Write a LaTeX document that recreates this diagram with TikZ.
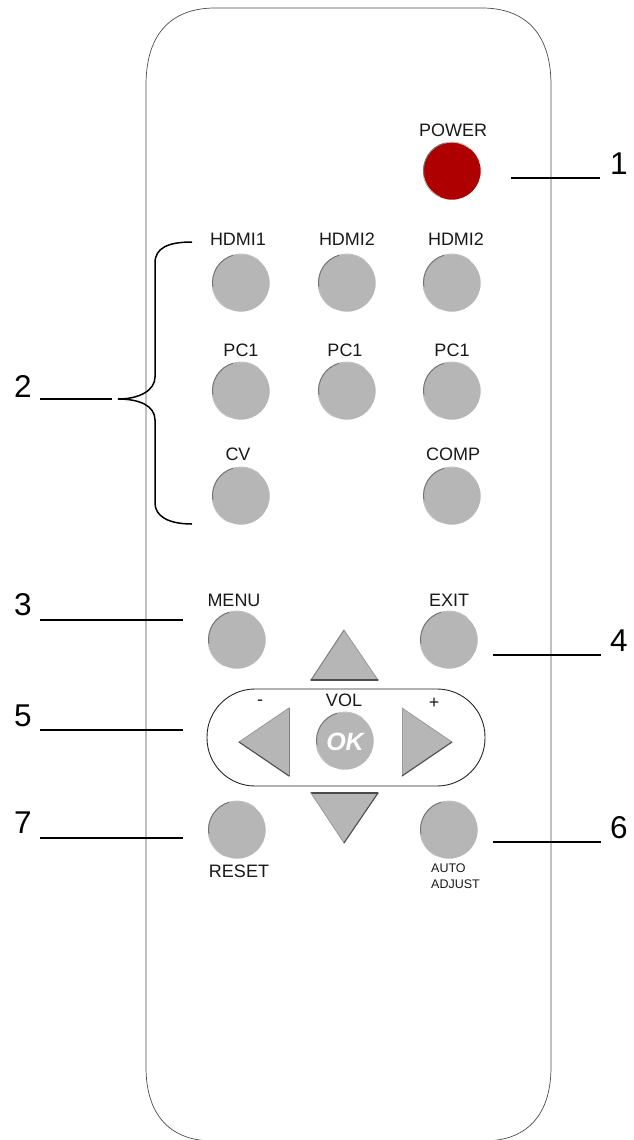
\documentclass[tikz,border=0pt]{standalone}
\usepackage{fontspec}
\setmainfont{Liberation Sans}
\newcommand{\rbtn}[4]{%
  \node[btn,fill=#4] (#1) at (#2,#3) {};
  \draw[black!55,line width=1pt] (#1.105) arc[start angle=-105,end angle=-190,radius=28.4];
  \draw[black!25,line width=1pt] (#1.105) arc[start angle=-105,end angle=-50,radius=28.4];
  \draw[black!25,line width=1pt] (#1.190) arc[start angle=-190,end angle=-245,radius=28.4];
}
\newcommand{\tribevel}[6]{%
  \fill[fill=btngray] (#1,#2) -- (#3,#4) -- (#5,#6) -- cycle;
}
\definecolor{btngray}{HTML}{B6B6B6}
\definecolor{pwrred}{HTML}{AE0000}
\tikzset{
  x=1pt,y=-1pt,
  btn/.style={circle,inner sep=0pt,minimum size=57.4pt,draw=none},
  lbl/.style={font=\fontsize{18}{20}\selectfont,text=black!90,inner sep=0pt},
  lblsmall/.style={font=\fontsize{12.5}{14}\selectfont,text=black!90,inner sep=0pt},
  num/.style={font=\fontsize{31.5}{33}\selectfont,inner sep=0pt},
  leader/.style={draw=black,line width=1.5pt},
  brace/.style={draw=black,line width=1.5pt},
  body/.style={draw=black!70,line width=0.7pt},
  edgedark/.style={draw=black!70,line width=1.1pt,line cap=round},
  edgemid/.style={draw=black!50,line width=1pt,line cap=round},
  edgelight/.style={draw=black!40,line width=0.8pt,line cap=round},
}
\begin{document}
\begin{tikzpicture}
\useasboundingbox (0,0) rectangle (634,1140);
\begin{scope}
  \clip (0,0) rectangle (634,1140);
  \draw[body] (215,8) -- (482,8)
    .. controls (522,8) and (551,30) .. (551,85)
    -- (551,1067)
    .. controls (551,1115) and (527,1139) .. (489,1140.8)
    -- (208,1140.8)
    .. controls (170,1139) and (146,1115) .. (146,1067)
    -- (146,85)
    .. controls (146,30) and (175,8) .. (215,8) -- cycle;
\end{scope}
% buttons
\rbtn{power}{452}{171}{pwrred}
\rbtn{a1}{241}{283}{btngray}
\rbtn{a2}{347}{283}{btngray}
\rbtn{a3}{452}{283}{btngray}
\rbtn{b1}{241}{391}{btngray}
\rbtn{b2}{347}{391}{btngray}
\rbtn{b3}{452}{391}{btngray}
\rbtn{c1}{241}{496}{btngray}
\rbtn{c3}{452}{496}{btngray}
\rbtn{menu}{237}{640}{btngray}
\rbtn{exit}{449}{640}{btngray}
\rbtn{reset}{237}{830}{btngray}
\rbtn{auto}{449}{830}{btngray}
% pill
\draw[draw=black!85,line width=0.9pt,rounded corners=48pt] (207,689) rectangle (485,786);
% triangles
\tribevel{344}{630}{311}{680}{378}{680}
\draw[edgemid] (344,630) -- (311,680);
\draw[edgelight] (344,630) -- (378,680);
\draw[edgedark] (311,680) -- (378,680);
\tribevel{311}{793}{378}{793}{344}{843}
\draw[edgedark] (311,793) -- (378,793);
\draw[edgelight] (311,793) -- (344,843);
\draw[edgedark] (378,793) -- (344,843);
\tribevel{239}{742}{289}{708}{289}{776}
\draw[edgelight] (239,742) -- (289,708);
\draw[edgemid] (289,708) -- (289,776);
\draw[edgedark] (239,742) -- (289,776);
\tribevel{452}{742}{402}{708}{402}{776}
\draw[edgelight] (452,742) -- (402,708);
\draw[edgelight] (402,708) -- (402,776);
\draw[edgedark] (452,742) -- (402,776);
% OK
\rbtn{ok}{345}{741}{btngray}
\node[inner sep=0pt,text=white,font=\fontsize{25}{27}\selectfont\bfseries\itshape] (oktext) at (345,742) {OK};
% labels
\node[lbl] (tpower) at (453,130) {POWER};
\node[lbl] (th1) at (238,239) {HDMI1};
\node[lbl] (th2) at (347,239) {HDMI2};
\node[lbl] (th3) at (456,239) {HDMI2};
\node[lbl] (tp1) at (241,350) {PC1};
\node[lbl] (tp2) at (345,350) {PC1};
\node[lbl] (tp3) at (452,350) {PC1};
\node[lbl] (tcv) at (238,454) {CV};
\node[lbl] (tcomp) at (453,454) {COMP};
\node[lbl] (tmenu) at (234,600) {MENU};
\node[lbl] (texit) at (449,600) {EXIT};
\node[lbl] (tvol) at (344,700) {VOL};
\node[lbl] (tminus) at (260,703) {-};
\node[lbl] (tplus) at (434,703) {+};
\node[lbl] (treset) at (239,871) {RESET};
\node[lblsmall,anchor=west] (tauto) at (431,868) {AUTO};
\node[lblsmall,anchor=west] (tadj) at (431,884) {ADJUST};
% numbers
\node[num] (n1) at (619,164) {1};
\node[num] (n2) at (23,386) {2};
\node[num] (n3) at (23,605) {3};
\node[num] (n4) at (619,641) {4};
\node[num] (n5) at (23,716) {5};
\node[num] (n6) at (619,828) {6};
\node[num] (n7) at (23,823) {7};
% leader ends
\coordinate (l1a) at (511,178); \coordinate (l1b) at (600,178);
\coordinate (l2a) at (40,399);  \coordinate (l2b) at (112,399);
\coordinate (l3a) at (40,620);  \coordinate (l3b) at (183,620);
\coordinate (l4a) at (493,655); \coordinate (l4b) at (601,655);
\coordinate (l5a) at (40,730);  \coordinate (l5b) at (183,730);
\coordinate (l6a) at (493,842); \coordinate (l6b) at (601,842);
\coordinate (l7a) at (40,838);  \coordinate (l7b) at (183,838);
\foreach \i in {1,...,7} \draw[leader] (l\i a) -- (l\i b);
% brace
\coordinate (btip) at (118,399);
\coordinate (btop) at (192,242);
\coordinate (bbot) at (192,524);
\draw[brace] (btop) .. controls (168,242) and (155,248) .. (155,263) -- (155,377)
  .. controls (155,390) and (140,399) .. (btip)
  .. controls (140,399) and (155,406) .. (155,420) -- (155,503)
  .. controls (155,516) and (168,524) .. (bbot);
\end{tikzpicture}
\end{document}
